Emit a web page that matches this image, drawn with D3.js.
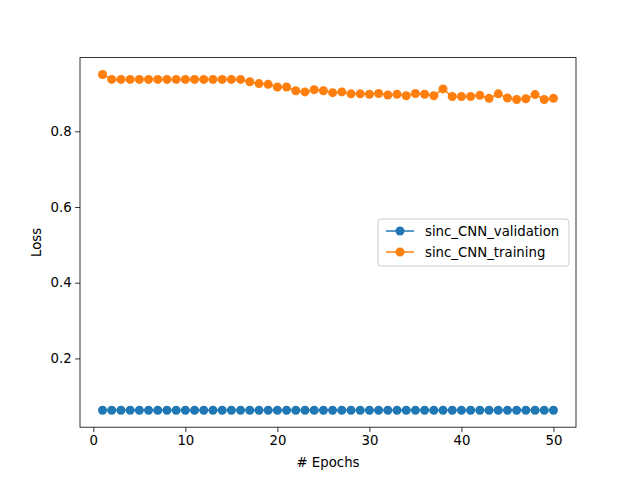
<!DOCTYPE html>
<html><head><meta charset="utf-8">
<script src="https://cdn.jsdelivr.net/npm/d3@7"></script>
<style>body{margin:0;background:#fff}text{font-family:"DejaVu Sans",sans-serif}</style>
</head><body><div id="chart"></div>
<script>
var epochs = d3.range(1, 51);
var validation = epochs.map(function () { return 0.063; });
var training = [0.950,0.937,0.937,0.937,0.937,0.937,0.937,0.937,0.937,0.937,
  0.937,0.937,0.937,0.937,0.937,0.937,0.931,0.926,0.924,0.917,
  0.917,0.907,0.904,0.910,0.907,0.902,0.904,0.899,0.899,0.898,
  0.900,0.896,0.898,0.894,0.900,0.898,0.894,0.912,0.892,0.892,
  0.892,0.895,0.887,0.899,0.888,0.884,0.886,0.897,0.884,0.887];
var xTicks = [0, 10, 20, 30, 40, 50];
var yTicks = [0.2, 0.4, 0.6, 0.8];
var series = [
  {name: "sinc_CNN_validation", values: validation, color: "#1f77b4"},
  {name: "sinc_CNN_training", values: training, color: "#ff7f0e"}
];

var w = 640, h = 480;
var pLeft = 80, pRight = 576, pTop = 57.6, pBottom = 427.2;

var svg = d3.select("#chart").append("svg").attr("width", w).attr("height", h);

var x = d3.scaleLinear().domain([-1.45, 52.45]).range([pLeft, pRight]);
var y = d3.scaleLinear().domain([0.0183, 0.9947]).range([pBottom, pTop]);

var line = d3.line()
  .x(function (d, i) { return x(epochs[i]); })
  .y(function (d) { return y(d); });

series.forEach(function (s) {
  svg.append("path").attr("d", line(s.values)).attr("fill", "none")
    .attr("stroke", s.color).attr("stroke-width", 1.5);
  svg.append("g").selectAll("circle").data(s.values).enter().append("circle")
    .attr("cx", function (d, i) { return x(epochs[i]); })
    .attr("cy", function (d) { return y(d); })
    .attr("r", 4.5).attr("fill", s.color);
});

svg.append("rect").attr("x", pLeft).attr("y", pTop)
  .attr("width", pRight - pLeft).attr("height", pBottom - pTop)
  .attr("fill", "none").attr("stroke", "#000").attr("stroke-width", 0.8);

var xAxis = svg.append("g").attr("transform", "translate(0," + pBottom + ")")
  .call(d3.axisBottom(x).tickValues(xTicks).tickSize(4.9).tickPadding(3.5));
var yAxis = svg.append("g").attr("transform", "translate(" + pLeft + ",0)")
  .call(d3.axisLeft(y).tickValues(yTicks).tickFormat(d3.format(".1f")).tickSize(4.9).tickPadding(3.5));
[xAxis, yAxis].forEach(function (a) {
  a.select(".domain").remove();
  a.selectAll("text").attr("font-size", 13.3).attr("fill", "#000");
  a.selectAll("line").attr("stroke", "#000").attr("stroke-width", 0.8);
});

svg.append("text").attr("x", (pLeft + pRight) / 2).attr("y", 467)
  .attr("text-anchor", "middle").attr("font-size", 13.3).text("# Epochs");
svg.append("text").attr("transform", "translate(41," + ((pTop + pBottom) / 2) + ") rotate(-90)")
  .attr("text-anchor", "middle").attr("font-size", 13.3).text("Loss");

var lg = svg.append("g").attr("transform", "translate(378,219)");
lg.append("rect").attr("width", 191).attr("height", 47).attr("rx", 3)
  .attr("fill", "#fff").attr("fill-opacity", 0.8).attr("stroke", "#ccc");
series.forEach(function (s, i) {
  var yy = 12 + i * 21;
  lg.append("line").attr("x1", 8).attr("x2", 36).attr("y1", yy).attr("y2", yy)
    .attr("stroke", s.color).attr("stroke-width", 1.5);
  lg.append("circle").attr("cx", 22).attr("cy", yy).attr("r", 4.5).attr("fill", s.color);
  lg.append("text").attr("x", 47).attr("y", yy + 4.5).attr("font-size", 13.3).text(s.name);
});
</script></body></html>
